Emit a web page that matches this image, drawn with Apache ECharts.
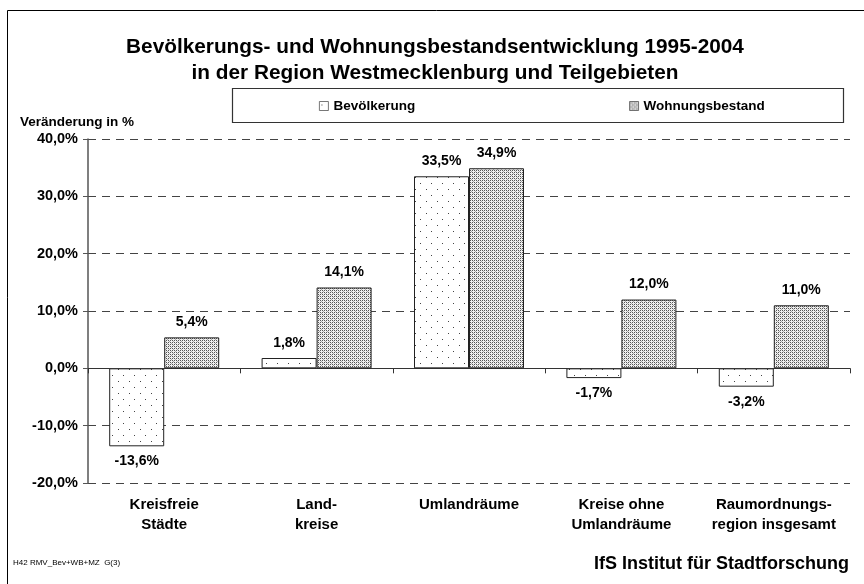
<!DOCTYPE html>
<html>
<head>
<meta charset="utf-8">
<script src="https://cdn.jsdelivr.net/npm/echarts@6/dist/echarts.min.js"></script>
<style>
  html, body { margin: 0; padding: 0; background: #fff; }
  #chart { width: 864px; height: 584px; }
</style>
</head>
<body>
<div id="chart"></div>
<script>
var categories = ['Kreisfreie\nStädte', 'Land-\nkreise', 'Umlandräume', 'Kreise ohne\nUmlandräume', 'Raumordnungs-\nregion insgesamt'];
var seriesNames = ['Bevölkerung', 'Wohnungsbestand'];
var bevoelkerung = [-13.6, 1.8, 33.5, -1.7, -3.2];
var wohnungsbestand = [5.4, 14.1, 34.9, 12.0, 11.0];
var yTicks = [-20, -10, 0, 10, 20, 30, 40];

var FONT = '"Liberation Sans", Arial, sans-serif';

function pct(v) {
    return v.toFixed(1).replace('.', ',') + '%';
}

// Füllmuster wie im Original (Punkte / dichtes Raster)
function sparseDots() {
    var c = document.createElement('canvas');
    c.width = 11; c.height = 12;
    var ctx = c.getContext('2d');
    ctx.fillStyle = '#fff';
    ctx.fillRect(0, 0, 11, 12);
    ctx.fillStyle = '#444';
    ctx.fillRect(2, 3, 1, 1);
    ctx.fillRect(8, 9, 1, 1);
    return c;
}
function denseDots() {
    var c = document.createElement('canvas');
    c.width = 4; c.height = 4;
    var ctx = c.getContext('2d');
    ctx.fillStyle = '#f0f0f0';
    ctx.fillRect(0, 0, 4, 4);
    ctx.fillStyle = '#555';
    ctx.fillRect(0, 0, 1, 1);
    ctx.fillRect(2, 0, 1, 1);
    ctx.fillRect(0, 2, 1, 1);
    ctx.fillRect(2, 2, 1, 1);
    ctx.fillStyle = '#aaa';
    ctx.fillRect(1, 1, 1, 1);
    ctx.fillRect(3, 3, 1, 1);
    return c;
}

function barData(values) {
    return values.map(function (v) {
        return { value: v, label: { position: v < 0 ? 'bottom' : 'top' } };
    });
}

var myChart = echarts.init(document.getElementById('chart'));

var labelStyle = {
    show: true,
    distance: 8,
    formatter: function (p) { return pct(p.value); },
    fontFamily: FONT,
    fontWeight: 'bold',
    fontSize: 14,
    color: '#000'
};

myChart.setOption({
    backgroundColor: '#fff',
    animation: false,
    title: {
        text: 'Bevölkerungs- und Wohnungsbestandsentwicklung 1995-2004\nin der Region Westmecklenburg und Teilgebieten',
        left: 430,
        top: 29,
        textAlign: 'center',
        textStyle: {
            fontFamily: FONT,
            fontWeight: 'bold',
            fontSize: 20.8,
            lineHeight: 26,
            color: '#000'
        }
    },
    legend: {
        data: seriesNames,
        left: 319,
        top: 99,
        padding: 0,
        itemWidth: 9,
        itemHeight: 9,
        itemGap: 214,
        icon: 'rect',
        itemStyle: { borderColor: '#555', borderWidth: 0.8 },
        textStyle: {
            fontFamily: FONT,
            fontWeight: 'bold',
            fontSize: 13.5,
            color: '#000'
        }
    },
    grid: {
        left: 88,
        top: 139,
        width: 762,
        height: 344
    },
    xAxis: {
        type: 'category',
        data: categories,
        axisLine: { onZero: true, lineStyle: { color: '#333', width: 1 } },
        axisTick: { show: true, length: 5, lineStyle: { color: '#333' } },
        axisLabel: {
            show: true,
            margin: 0,
            padding: [12, 0, 0, 0],
            interval: 0,
            fontFamily: FONT,
            fontWeight: 'bold',
            fontSize: 15,
            lineHeight: 20,
            color: '#000'
        },
        splitLine: { show: false }
    },
    yAxis: {
        type: 'value',
        min: yTicks[0],
        max: yTicks[yTicks.length - 1],
        interval: 10,
        axisLine: { show: true, lineStyle: { color: '#555', width: 1.5 } },
        axisTick: { show: true, length: 5, lineStyle: { color: '#555' } },
        axisLabel: {
            formatter: pct,
            margin: 10,
            fontFamily: FONT,
            fontWeight: 'bold',
            fontSize: 14.5,
            color: '#000'
        },
        splitLine: {
            show: true,
            lineStyle: { color: '#444', width: 1, type: [8, 6] }
        }
    },
    series: [
        {
            name: seriesNames[0],
            type: 'bar',
            data: barData(bevoelkerung),
            barWidth: 55,
            barGap: '0%',
            itemStyle: {
                color: { image: sparseDots(), repeat: 'repeat' },
                borderColor: '#222',
                borderWidth: 1
            },
            label: labelStyle
        },
        {
            name: seriesNames[1],
            type: 'bar',
            data: barData(wohnungsbestand),
            barWidth: 55,
            barGap: '0%',
            itemStyle: {
                color: { image: denseDots(), repeat: 'repeat' },
                borderColor: '#222',
                borderWidth: 1
            },
            label: labelStyle
        }
    ],
    graphic: [
        {
            type: 'rect',
            shape: { x: 7.5, y: 10.5, width: 900, height: 700 },
            style: { fill: null, stroke: '#000', lineWidth: 1 },
            silent: true
        },
        {
            type: 'rect',
            shape: { x: 232.5, y: 88.5, width: 611, height: 34 },
            style: { fill: null, stroke: '#333', lineWidth: 1.2 },
            silent: true
        },
        {
            type: 'text',
            x: 20,
            y: 122,
            style: {
                text: 'Veränderung in %',
                fontFamily: FONT,
                fontWeight: 'bold',
                fontSize: 13.5,
                fill: '#000',
                textVerticalAlign: 'middle'
            }
        },
        {
            type: 'text',
            x: 13,
            y: 563,
            style: {
                text: 'H42 RMV_Bev+WB+MZ  G(3)',
                fontFamily: FONT,
                fontSize: 8,
                fill: '#000',
                textVerticalAlign: 'middle'
            }
        },
        {
            type: 'text',
            x: 849,
            y: 564,
            style: {
                text: 'IfS Institut für Stadtforschung',
                fontFamily: FONT,
                fontWeight: 'bold',
                fontSize: 18,
                fill: '#000',
                textAlign: 'right',
                textVerticalAlign: 'middle'
            }
        }
    ]
});
</script>
</body>
</html>
